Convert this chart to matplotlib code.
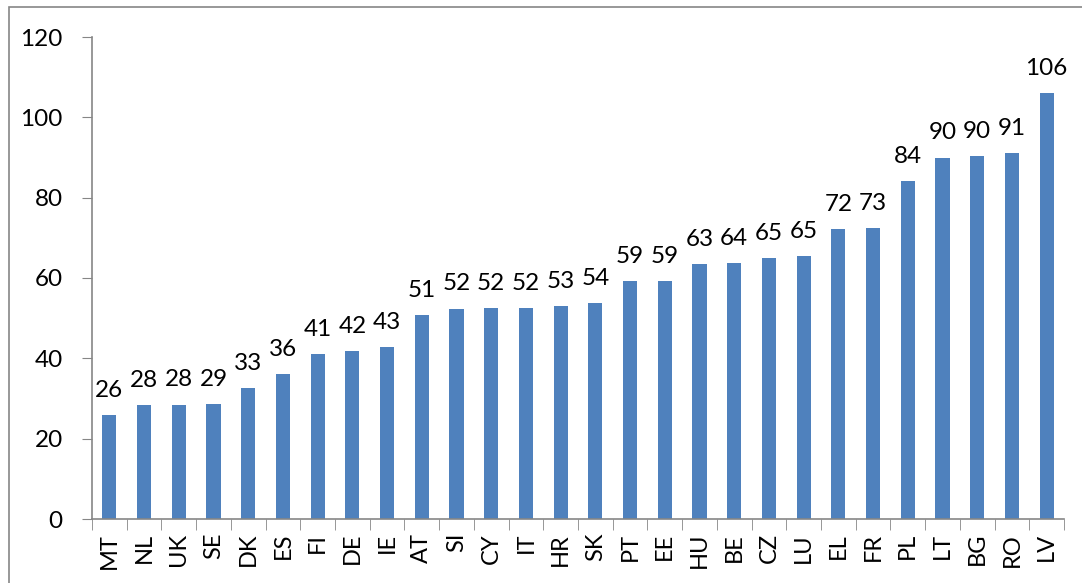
import matplotlib.pyplot as plt
from matplotlib.patches import Rectangle

countries = ["MT", "NL", "UK", "SE", "DK", "ES", "FI", "DE", "IE", "AT",
             "SI", "CY", "IT", "HR", "SK", "PT", "EE", "HU", "BE", "CZ",
             "LU", "EL", "FR", "PL", "LT", "BG", "RO", "LV"]
values = [26.0, 28.3, 28.5, 28.6, 32.6, 36.2, 41.0, 41.8, 42.8, 50.8,
          52.4, 52.5, 52.5, 53.0, 53.7, 59.2, 59.3, 63.4, 63.8, 65.0,
          65.4, 72.1, 72.5, 84.2, 90.0, 90.4, 91.2, 106.0]
labels = ["26", "28", "28", "29", "33", "36", "41", "42", "43", "51",
          "52", "52", "52", "53", "54", "59", "59", "63", "64", "65",
          "65", "72", "73", "84", "90", "90", "91", "106"]
yticks = [0, 20, 40, 60, 80, 100, 120]

plt.rcParams["font.family"] = ["Lato", "DejaVu Sans"]
axis_grey = "#868686"

W, H = 1082, 583
fig = plt.figure(figsize=(W / 100, H / 100), dpi=100)
ax = fig.add_axes([92 / W, (H - 519) / H, (1064 - 92) / W, (519 - 37) / H])

# chart border (cut off at right and bottom, like the screenshot)
fig.patches.append(Rectangle((9 / W, -0.1), 1.2, (H - 7) / H + 0.1,
                             transform=fig.transFigure, fill=False,
                             edgecolor=axis_grey, linewidth=1.2))

x = list(range(len(countries)))
ax.bar(x, values, width=0.41, color="#4F81BD")

for xi, v, lab in zip(x, values, labels):
    ax.annotate(lab, (xi, v), xytext=(0, 13), textcoords="offset points",
                ha="center", va="baseline", fontsize=17.5)

ax.set_xlim(-0.5, len(countries) - 0.5)
ax.set_ylim(0, 120)
ax.set_yticks(yticks)
ax.tick_params(axis="y", labelsize=17.5, length=7, color=axis_grey, pad=14)

ax.set_xticks(x)
ax.set_xticklabels(countries, rotation=90, fontsize=17)
ax.set_xticks([i - 0.5 for i in range(len(countries) + 1)], minor=True)
ax.tick_params(axis="x", which="major", length=0, pad=10)
ax.tick_params(axis="x", which="minor", length=8, color=axis_grey)

for side in ["top", "right"]:
    ax.spines[side].set_visible(False)
for side in ["left", "bottom"]:
    ax.spines[side].set_color(axis_grey)
    ax.spines[side].set_linewidth(1.2)

fig.savefig("out.png", dpi=100)
